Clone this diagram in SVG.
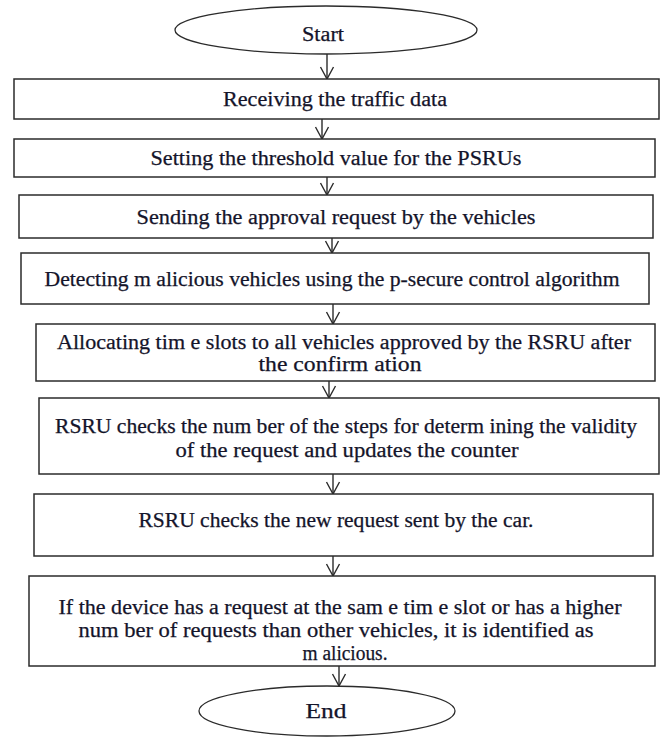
<svg xmlns="http://www.w3.org/2000/svg" width="662" height="740" viewBox="0 0 662 740">
<style>
  .box { fill: #ffffff; stroke: #2b2b2b; stroke-width: 1.5; }
  .term { fill: #ffffff; stroke: #2b2b2b; stroke-width: 1.3; }
  .t { font-family: "Liberation Serif", "Times New Roman", serif; font-size: 20px; fill: #14142a; stroke: #14142a; stroke-width: 0.25; text-anchor: middle; }
  .edge { stroke: #2b2b2b; stroke-width: 1.4; fill: none; marker-end: url(#arr); }
</style>
<defs>
  <marker id="arr" markerUnits="userSpaceOnUse" viewBox="-14 -8 16 16" refX="0" refY="0" markerWidth="16" markerHeight="16" orient="auto">
    <path d="M-12,-6.5 L0,0 L-12,6.5" fill="none" stroke="#2b2b2b" stroke-width="1.4"/>
  </marker>
</defs>
<rect width="662" height="740" fill="#ffffff"/>

<g id="connectors">
  <line class="edge" x1="327" y1="54" x2="327" y2="79"/>
  <line class="edge" x1="322" y1="119" x2="322" y2="139"/>
  <line class="edge" x1="327" y1="177" x2="327" y2="195"/>
  <line class="edge" x1="332" y1="238" x2="332" y2="253"/>
  <line class="edge" x1="333" y1="304" x2="333" y2="324"/>
  <line class="edge" x1="329" y1="381" x2="329" y2="398"/>
  <line class="edge" x1="333" y1="474" x2="333" y2="494"/>
  <line class="edge" x1="333" y1="556" x2="333" y2="576"/>
  <line class="edge" x1="339" y1="666" x2="339" y2="686"/>
</g>

<g id="start">
  <ellipse class="term" cx="326" cy="30" rx="151" ry="24"/>
  <text class="t" x="323" y="41" textLength="42" lengthAdjust="spacingAndGlyphs">Start</text>
</g>

<g id="receiving">
  <rect class="box" x="14" y="79" width="645" height="40"/>
  <text class="t" x="335" y="106" textLength="224" lengthAdjust="spacingAndGlyphs">Receiving the traffic data</text>
</g>

<g id="threshold">
  <rect class="box" x="14" y="139" width="641" height="38"/>
  <text class="t" x="336" y="165" textLength="371" lengthAdjust="spacingAndGlyphs">Setting the threshold value for the PSRUs</text>
</g>

<g id="sending">
  <rect class="box" x="19" y="195" width="634" height="43"/>
  <text class="t" x="336" y="224" textLength="399" lengthAdjust="spacingAndGlyphs">Sending the approval request by the vehicles</text>
</g>

<g id="detecting">
  <rect class="box" x="21" y="253" width="628" height="51"/>
  <text class="t" x="332" y="286" textLength="575" lengthAdjust="spacingAndGlyphs">Detecting m alicious vehicles using the p-secure control algorithm</text>
</g>

<g id="allocating">
  <rect class="box" x="36" y="324" width="619" height="57"/>
  <text class="t" x="344" y="349" textLength="574" lengthAdjust="spacingAndGlyphs">Allocating tim e slots to all vehicles approved by the RSRU after</text>
  <text class="t" x="340" y="371" textLength="163" lengthAdjust="spacingAndGlyphs">the confirm ation</text>
</g>

<g id="checks-steps">
  <rect class="box" x="39" y="398" width="620" height="76"/>
  <text class="t" x="346" y="433" textLength="582" lengthAdjust="spacingAndGlyphs">RSRU checks the num ber of the steps for determ ining the validity</text>
  <text class="t" x="347" y="457" textLength="343" lengthAdjust="spacingAndGlyphs">of the request and updates the counter</text>
</g>

<g id="checks-new">
  <rect class="box" x="34" y="494" width="619" height="62"/>
  <text class="t" x="336" y="527" textLength="395" lengthAdjust="spacingAndGlyphs">RSRU checks the new request sent by the car.</text>
</g>

<g id="malicious">
  <rect class="box" x="29" y="576" width="626" height="90"/>
  <text class="t" x="340" y="614" textLength="563" lengthAdjust="spacingAndGlyphs">If the device has a request at the sam e tim e slot or has a higher</text>
  <text class="t" x="336" y="637" textLength="515" lengthAdjust="spacingAndGlyphs">num ber of requests than other vehicles, it is identified as</text>
  <text class="t" x="345" y="660" textLength="85" lengthAdjust="spacingAndGlyphs">m alicious.</text>
</g>

<g id="end">
  <ellipse class="term" cx="327" cy="711" rx="128" ry="25"/>
  <text class="t" x="326" y="718" textLength="41" lengthAdjust="spacingAndGlyphs">End</text>
</g>
</svg>
